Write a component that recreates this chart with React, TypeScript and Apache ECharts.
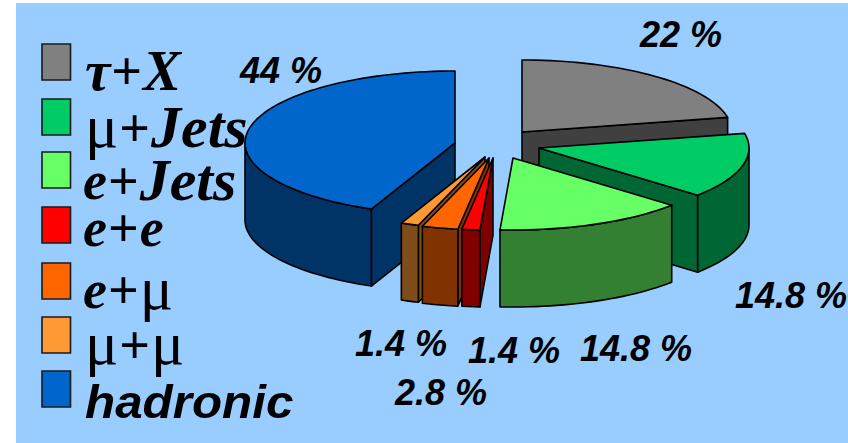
import React, { useEffect, useRef } from "react";
import * as echarts from "echarts";

// Decay channels, listed clockwise from twelve o'clock.
const channels = ["τ+X", "μ+Jets", "e+Jets", "e+e", "e+μ", "μ+μ", "hadronic"];
const shares = [22, 14.8, 14.8, 1.4, 2.8, 1.4, 44];
const topColors = ["#808080", "#00cc66", "#66ff66", "#ff0000", "#ff6600", "#ff9933", "#0066cc"];
const wallColors = ["#404040", "#006633", "#338033", "#800000", "#803300", "#7f4d1a", "#003366"];

// Painter's order for the exploded slices, rear to front.
const paintOrder = [0, 1, 2, 6, 5, 4, 3];
// Exploded apex of each slice on the top face.
const apexes = [[522, 132], [539, 148], [513, 158], [493, 158], [489, 158], [485, 157], [455, 143]];
// Where each percentage sits: x, y of the text's left/middle.
const shareLabelSpots = [[640, 34], [735, 295], [580, 348], [468, 350], [395, 392], [355, 343], [240, 70]];
// Legend swatch top edge and text middle line.
const swatchTops = [44, 99, 152, 207, 263, 317, 371];
const legendMiddles = [71, 126, 180, 229, 288, 343, 401];
const legendLefts = [85, 85, 83, 83, 83, 85, 85];

const RX = 210;
const RY = 72;
const DEPTH = 77;

const total = shares.reduce((a, b) => a + b, 0);
const startAngles = shares.map((_, i) =>
  shares.slice(0, i).reduce((a, b) => a + b, 0) / total * 360
);

// Angles are degrees clockwise from the top of the tilted ellipse.
const rimPoint = (apex: number[], deg: number, drop = 0) => {
  const r = (deg * Math.PI) / 180;
  return [apex[0] + RX * Math.sin(r), apex[1] - RY * Math.cos(r) + drop];
};

const arc = (apex: number[], from: number, to: number, drop = 0) => {
  const n = Math.max(2, Math.ceil(Math.abs(to - from) / 2));
  const pts: number[][] = [];
  for (let k = 0; k <= n; k++) pts.push(rimPoint(apex, from + ((to - from) * k) / n, drop));
  return pts;
};

const edge = { stroke: "#000", lineWidth: 1.6, lineJoin: "round" };

const renderSlice = (_: unknown, api: any) => {
  const i = api.value(1);
  const from = startAngles[i];
  const to = from + (api.value(0) / total) * 360;
  const apex = apexes[i];
  const face = (points: number[][], fill: string) => ({
    type: "polygon",
    shape: { points },
    style: { fill, ...edge },
  });
  const below = [apex[0], apex[1] + DEPTH];
  const children: any[] = [];

  // Radial cut walls that turn toward the viewer.
  const sideWall = (deg: number) => {
    const p = rimPoint(apex, deg);
    return face([apex, p, [p[0], p[1] + DEPTH], below], wallColors[i]);
  };
  const endSin = Math.sin((to * Math.PI) / 180);
  const startSin = Math.sin((from * Math.PI) / 180);
  if (endSin > 1e-6) children.push(sideWall(to));
  if (startSin < -1e-6) children.push(sideWall(from));

  // Outer rim wall: only the part of the arc on the near half of the ellipse.
  const a = Math.max(from, 90);
  const b = Math.min(to, 270);
  if (b > a) {
    children.push(
      face([...arc(apex, a, b), ...arc(apex, b, a, DEPTH)], wallColors[i])
    );
  }

  // Top face.
  children.push(face([apex, ...arc(apex, from, to)], topColors[i]));
  return { type: "group", children };
};

const serif = "Liberation Serif";
const richStyles = {
  b: { fontFamily: serif, fontSize: 54, fontWeight: "bold", fontStyle: "italic", fill: "#000", verticalAlign: "bottom", padding: [0, 0, 2, 0] },
  k: { fontFamily: serif, fontSize: 57, fontWeight: "bold", fontStyle: "italic", fill: "#000", verticalAlign: "bottom", padding: [0, 0, 1, 0] },
  j: { fontFamily: serif, fontSize: 60, fontWeight: "bold", fontStyle: "italic", fill: "#000", verticalAlign: "bottom" },
  m: { fontFamily: serif, fontSize: 62, fontWeight: "normal", fontStyle: "normal", fill: "#000", verticalAlign: "bottom" },
  p: { fontFamily: serif, fontSize: 54, fontWeight: "bold", fontStyle: "normal", fill: "#000", verticalAlign: "bottom", padding: [0, 1, 2, 1] },
};

// Muons stay upright; "Jets", τ and X run larger than the other bold italic.
const legendMarkup = (label: string) =>
  label
    .split(/(\+)/)
    .map((part) => {
      if (part === "+") return "{p|+}";
      if (part === "μ") return "{m|μ}";
      if (part === "Jets") return "{j|Jets}";
      if (part === "τ" || part === "X") return `{k|${part}}`;
      return `{b|${part}}`;
    })
    .join("");

const legendEntry = (label: string, i: number) => {
  const isWord = label === "hadronic";
  return {
    type: "text",
    x: legendLefts[i],
    y: legendMiddles[i],
    scaleX: isWord ? 1.05 : 1,
    style: isWord
      ? {
          text: label,
          fontFamily: "Liberation Sans",
          fontSize: 47,
          fontWeight: "bold",
          fontStyle: "italic",
          fill: "#000",
          verticalAlign: "middle",
        }
      : {
          text: legendMarkup(label),
          verticalAlign: "middle",
          rich: richStyles,
        },
  };
};

export default function App() {
  const ref = useRef<HTMLDivElement>(null);

  useEffect(() => {
    const chart = echarts.init(ref.current!, null, { renderer: "svg" });
    chart.setOption({
      animation: false,
      backgroundColor: "#fff",
      graphic: [
        {
          type: "rect",
          z: -10,
          shape: { x: 16, y: 3, width: 832, height: 440 },
          style: { fill: "#99ccff" },
        },
        ...channels.map((_, i) => ({
          type: "rect",
          shape: { x: 42, y: swatchTops[i], width: 28.5, height: 36 },
          style: { fill: topColors[i], stroke: "#1a1a1a", lineWidth: 1.6 },
        })),
        ...channels.map(legendEntry),
        ...shares.map((v, i) => ({
          type: "text",
          z: 20,
          x: shareLabelSpots[i][0],
          y: shareLabelSpots[i][1],
          style: {
            text: `${v} %`,
            fontFamily: "Liberation Sans",
            fontSize: 36,
            fontWeight: "bold",
            fontStyle: "italic",
            fill: "#000",
            verticalAlign: "middle",
          },
        })),
      ],
      series: [
        {
          type: "custom",
          coordinateSystem: "none",
          silent: true,
          renderItem: renderSlice,
          data: paintOrder.map((i) => ({ name: channels[i], value: [shares[i], i] })),
        },
      ],
    });
    return () => chart.dispose();
  }, []);

  return <div ref={ref} style={{ position: "absolute", left: 0, top: 0, width: 848, height: 443 }} />;
}
